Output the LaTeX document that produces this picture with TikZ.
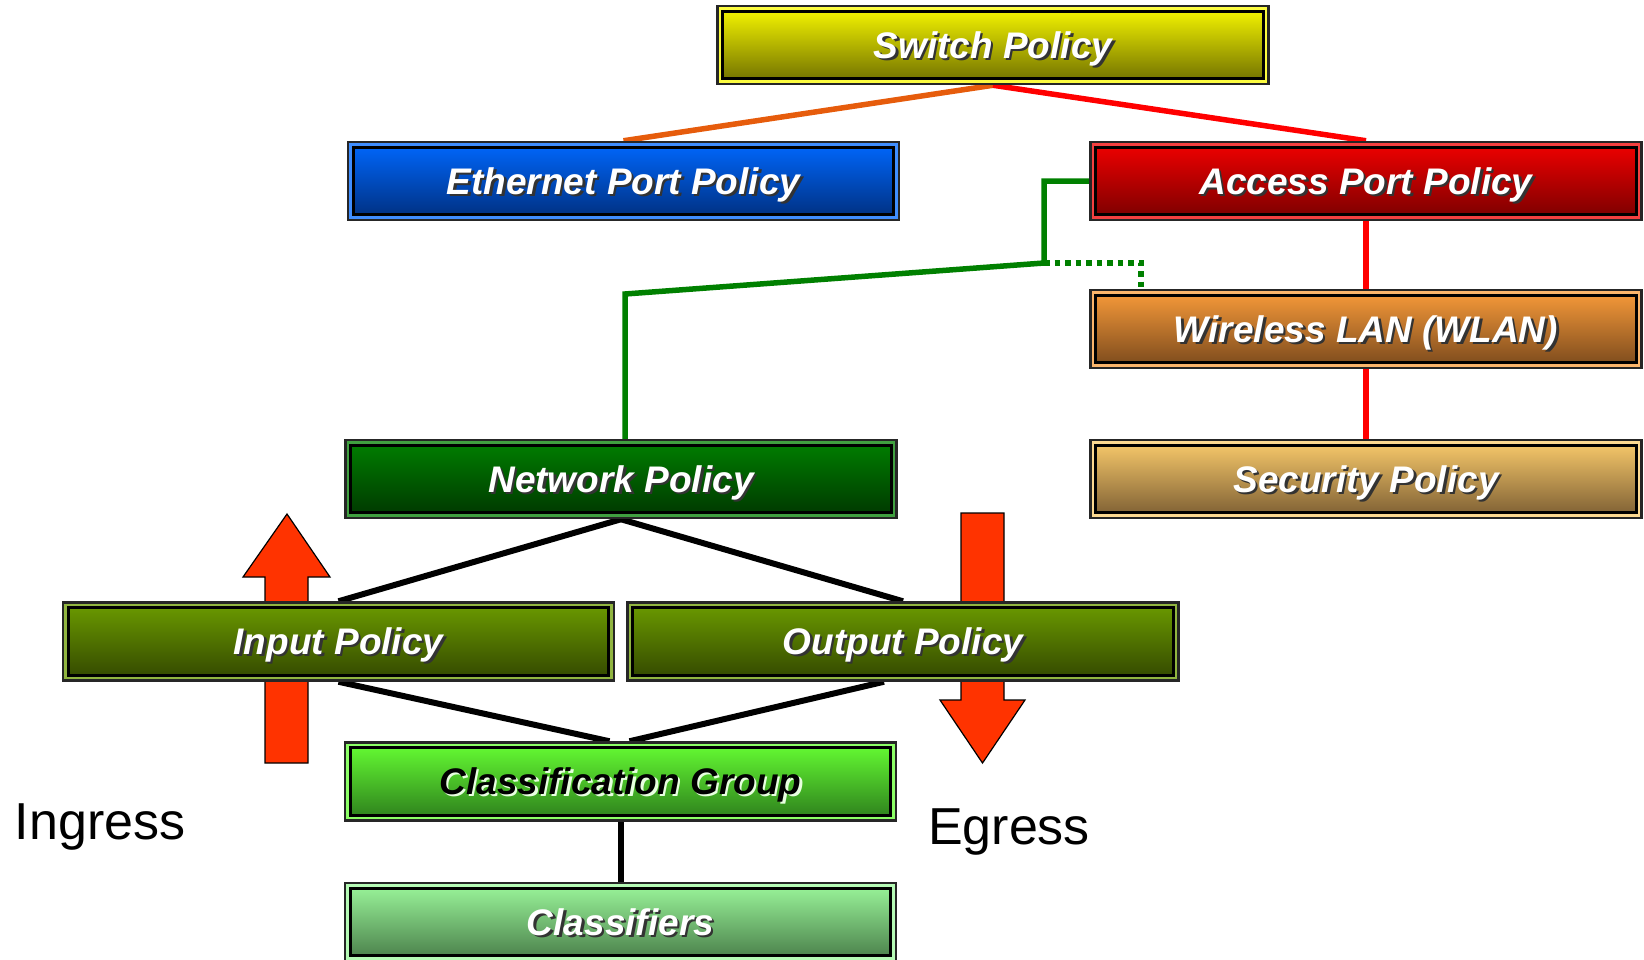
\documentclass[tikz,border=0pt]{standalone}
\usepackage{fontspec}
\setmainfont{Liberation Sans}
\usetikzlibrary{backgrounds}

% gradient colours of the policy boxes (top / bottom)
\definecolor{swT}{HTML}{FAFA00}\definecolor{swB}{HTML}{6C6C00}
\definecolor{ethT}{HTML}{0068FF}\definecolor{ethB}{HTML}{002E7C}
\definecolor{accT}{HTML}{F20000}\definecolor{accB}{HTML}{780000}
\definecolor{wlT}{HTML}{FA9C3A}\definecolor{wlB}{HTML}{78481C}
\definecolor{secT}{HTML}{FBCC6C}\definecolor{secB}{HTML}{7A5C32}
\definecolor{netT}{HTML}{008000}\definecolor{netB}{HTML}{003600}
\definecolor{ioT}{HTML}{6C9C00}\definecolor{ioB}{HTML}{324600}
\definecolor{cgT}{HTML}{66FF33}\definecolor{cgB}{HTML}{2C7C1C}
\definecolor{clT}{HTML}{9CF89C}\definecolor{clB}{HTML}{487C48}
% connector colours
\definecolor{linkOrange}{HTML}{E65C0C}
\definecolor{linkRed}{HTML}{FF0000}
\definecolor{linkGreen}{HTML}{008000}
\definecolor{flowRed}{HTML}{FF3300}

% text with a drop shadow: #1 text colour, #2 shadow colour;
% the baseline sits 13pt below the box centre
\newcommand\shadowed[3]{\raisebox{-13pt}[0pt][0pt]{\makebox[0pt][l]{\hspace{2.4pt}\raisebox{-2.4pt}{\textcolor{#2}{#3}}}\textcolor{#1}{#3}}}

\tikzset{
  policy/.style 2 args={
    draw=black!85, line width=2.5pt, fill=#1!75!white,
    minimum width=551pt, minimum height=78pt, inner sep=0pt,
    font=\fontsize{37pt}{44pt}\selectfont\bfseries\itshape,
    path picture={
      \shade[top color=#1, bottom color=#2, draw=black, line width=3.2pt]
        ([shift={(5.2pt,-5.2pt)}]path picture bounding box.north west)
        rectangle ([shift={(-5.2pt,5.2pt)}]path picture bounding box.south east);
    }
  },
  label text/.style={font=\fontsize{52pt}{60pt}\selectfont, text=black, inner sep=0pt},
  tree link/.style={line width=6pt},
  colour link/.style={line width=5.5pt},
  flow arrow/.style={fill=flowRed, draw=black, line width=1.2pt, line join=miter}
}

\begin{document}
\begin{tikzpicture}[x=1pt, y=-1pt]
\useasboundingbox (0,0) rectangle (1644,959);

% policy boxes
\node[policy={swT}{swB}]   (sw)   at (993,45)     {\shadowed{white}{black!80}{Switch Policy}};
\node[policy={ethT}{ethB}] (eth)  at (623.5,181)  {\shadowed{white}{black!80}{Ethernet Port Policy}};
\node[policy={accT}{accB}] (acc)  at (1366,181)   {\shadowed{white}{black!80}{Access Port Policy}};
\node[policy={wlT}{wlB}]   (wlan) at (1366,329)   {\shadowed{white}{black!80}{Wireless LAN (WLAN)}};
\node[policy={secT}{secB}] (sec)  at (1366,479)   {\shadowed{white}{black!80}{Security Policy}};
\node[policy={netT}{netB}] (net)  at (621,479)    {\shadowed{white}{black!80}{Network Policy}};
\node[policy={ioT}{ioB}]   (inp)  at (338.5,641.5){\shadowed{white}{black!80}{Input Policy}};
\node[policy={ioT}{ioB}]   (outp) at (903,641.5)  {\shadowed{white}{black!80}{Output Policy}};
\node[policy={cgT}{cgB}]   (cg)   at (620.5,781.5){\shadowed{black}{white!85!cgT}{Classification Group}};
\node[policy={clT}{clB}]   (cls)  at (620.5,922)  {\shadowed{white}{black!80}{Classifiers}};

% side labels
\node[label text, anchor=base] (ingress) at (100,839) {Ingress};
\node[label text, anchor=base] (egress)  at (1009,844) {Egress};

% bend points of the network policy link
\coordinate (gA) at (1044,263);
\coordinate (gB) at (625,294);
\coordinate (gC) at (1141,290);

\begin{scope}[on background layer]
  % traffic direction arrows
  \draw[flow arrow] (265,763) -- (308,763) -- (308,577) -- (330,577) -- (287,514)
        -- (243,577) -- (265,577) -- cycle;
  \draw[flow arrow] (961,513) -- (1004,513) -- (1004,700) -- (1025,700) -- (982.5,763)
        -- (940,700) -- (961,700) -- cycle;

  % hierarchy links
  \draw[colour link, linkOrange] (sw.south) -- (eth.north);
  \draw[colour link, linkRed] (sw.south) -- (acc.north);
  \draw[colour link, linkRed] (acc.south) -- (wlan.north);
  \draw[colour link, linkRed] (wlan.south) -- (sec.north);

  \draw[colour link, linkGreen, line join=miter] (acc.west) -| (gA) -- (gB) -- (gB |- net.north);
  \draw[colour link, linkGreen, dash pattern=on 5.5pt off 5pt] (gA) -| (gC);

  \draw[tree link] (net.south) -- (inp.north);
  \draw[tree link] (net.south) -- (outp.north);
  \draw[tree link] (inp.south) -- ([xshift=-11pt]cg.north);
  \draw[tree link] ([xshift=-19pt]outp.south) -- ([xshift=9pt]cg.north);
  \draw[tree link] (cg.south) -- (cls.north);
\end{scope}
\end{tikzpicture}
\end{document}
